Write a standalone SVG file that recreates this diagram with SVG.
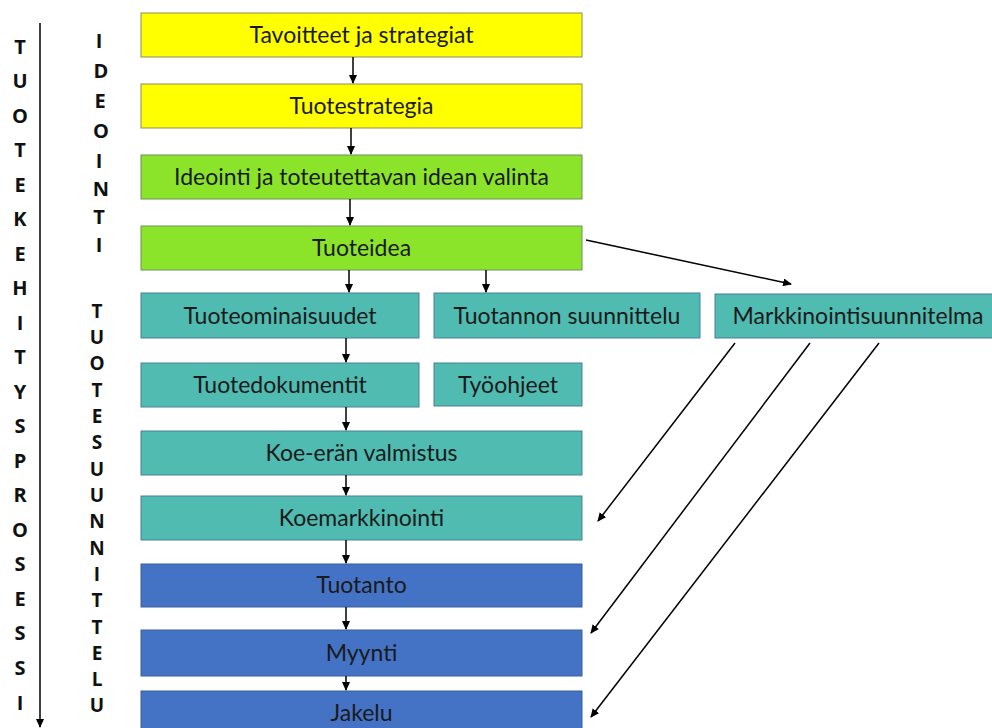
<svg xmlns="http://www.w3.org/2000/svg" width="992" height="728" viewBox="0 0 992 728">
<style>
.t{font-family:Lato,"Open Sans","Liberation Sans",sans-serif;font-size:23px;fill:#1a1a1a;text-anchor:middle}
.v{font-family:"Open Sans","Liberation Sans",sans-serif;font-size:20px;font-weight:bold;fill:#111;text-anchor:middle}
.m{font-size:19px}
.y{fill:#ffff00;stroke:#8c8c5a;stroke-width:1}
.g{fill:#8be42a;stroke:#6f8f5f;stroke-width:1}
.c{fill:#4fbbb1;stroke:#4a7f9a;stroke-width:1}
.b{fill:#4472c4;stroke:#3a5f9a;stroke-width:1}
.a{stroke:#000;stroke-width:1.5;fill:none;marker-end:url(#ah)}
</style>
<defs>
<marker id="ah" markerWidth="9" markerHeight="8" refX="8" refY="4" orient="auto" markerUnits="userSpaceOnUse">
<path d="M0,0 L9,4 L0,8 z" fill="#000"/>
</marker>
</defs>
<rect width="992" height="728" fill="#fff"/>
<g id="axis">
<line x1="40" y1="23" x2="40" y2="727" class="a"/>
<g class="v">
<text x="20" y="54">T</text><text x="20" y="88">U</text><text x="20" y="123">O</text><text x="20" y="157">T</text><text x="20" y="192">E</text><text x="20" y="226">K</text><text x="20" y="261">E</text><text x="20" y="295">H</text><text x="20" y="330">I</text><text x="20" y="364">T</text><text x="20" y="399">Y</text><text x="20" y="433">S</text><text x="20" y="468">P</text><text x="20" y="502">R</text><text x="20" y="537">O</text><text x="20" y="571">S</text><text x="20" y="606">E</text><text x="20" y="640">S</text><text x="20" y="675">S</text><text x="20" y="710">I</text>
</g>
</g>
<g id="ideointi-label" class="v">
<text x="99" y="48">I</text><text x="101" y="78">D</text><text x="100" y="108">E</text><text x="101" y="138">O</text><text x="99" y="168">I</text><text x="101" y="196">N</text><text x="99" y="224">T</text><text x="99" y="252">I</text>
</g>
<g id="tuotesuunnittelu-label" class="v m">
<text x="97" y="318">T</text><text x="97" y="344">U</text><text x="97" y="370">O</text><text x="97" y="397">T</text><text x="97" y="423">E</text><text x="97" y="449">S</text><text x="97" y="476">U</text><text x="97" y="502">U</text><text x="97" y="528">N</text><text x="97" y="555">N</text><text x="97" y="581">I</text><text x="97" y="607">T</text><text x="97" y="634">T</text><text x="97" y="660">E</text><text x="97" y="686">L</text><text x="97" y="712">U</text>
</g>
<g id="n1"><rect class="y" x="141" y="13" width="441" height="44"/><text class="t" x="361.5" y="43">Tavoitteet ja strategiat</text></g>
<g id="n2"><rect class="y" x="141" y="84" width="441" height="44"/><text class="t" x="361.5" y="114">Tuotestrategia</text></g>
<g id="n3"><rect class="g" x="141" y="155" width="441" height="44"/><text class="t" x="361.5" y="185">Ideointi ja toteutettavan idean valinta</text></g>
<g id="n4"><rect class="g" x="141" y="226" width="441" height="44"/><text class="t" x="361.5" y="256">Tuoteidea</text></g>
<g id="n5"><rect class="c" x="141" y="293" width="278" height="45"/><text class="t" x="280" y="324">Tuoteominaisuudet</text></g>
<g id="n6"><rect class="c" x="434" y="293" width="266" height="45"/><text class="t" x="567" y="324">Tuotannon suunnittelu</text></g>
<g id="n7"><rect class="c" x="715" y="294" width="286" height="44"/><text class="t" x="858" y="324">Markkinointisuunnitelma</text></g>
<g id="n8"><rect class="c" x="141" y="363" width="278" height="44"/><text class="t" x="280" y="393">Tuotedokumentit</text></g>
<g id="n9"><rect class="c" x="434" y="363" width="148" height="43"/><text class="t" x="508" y="393">Työohjeet</text></g>
<g id="n10"><rect class="c" x="141" y="431" width="441" height="44"/><text class="t" x="361.5" y="461">Koe-erän valmistus</text></g>
<g id="n11"><rect class="c" x="141" y="496" width="441" height="44"/><text class="t" x="361.5" y="526">Koemarkkinointi</text></g>
<g id="n12"><rect class="b" x="141" y="564" width="441" height="43"/><text class="t" x="361.5" y="593">Tuotanto</text></g>
<g id="n13"><rect class="b" x="141" y="630" width="441" height="46"/><text class="t" x="361.5" y="661">Myynti</text></g>
<g id="n14"><rect class="b" x="141" y="691" width="441" height="44"/><text class="t" x="361.5" y="721">Jakelu</text></g>
<g id="connectors">
<line class="a" x1="353" y1="57" x2="353" y2="83"/>
<line class="a" x1="351" y1="128" x2="351" y2="154"/>
<line class="a" x1="350" y1="199" x2="350" y2="225"/>
<line class="a" x1="349" y1="270" x2="349" y2="292"/>
<line class="a" x1="486" y1="270" x2="486" y2="292"/>
<line class="a" x1="586" y1="240" x2="791" y2="284"/>
<line class="a" x1="346" y1="338" x2="346" y2="362"/>
<line class="a" x1="346" y1="407" x2="346" y2="430"/>
<line class="a" x1="346" y1="475" x2="346" y2="495"/>
<line class="a" x1="346" y1="540" x2="346" y2="563"/>
<line class="a" x1="346" y1="607" x2="346" y2="629"/>
<line class="a" x1="346" y1="676" x2="346" y2="690"/>
<line class="a" x1="735" y1="343" x2="598" y2="521"/>
<line class="a" x1="810" y1="343" x2="591" y2="633"/>
<line class="a" x1="879" y1="343" x2="591" y2="717"/>
</g>
</svg>
